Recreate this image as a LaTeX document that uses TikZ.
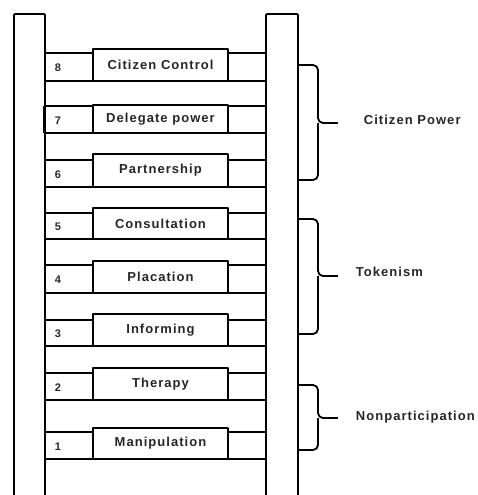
\documentclass[tikz,border=0pt]{standalone}
\usepackage{fontspec}
\newfontfamily\labfont{Liberation Sans}[LetterSpace=8]
\begin{document}
\begin{tikzpicture}[x=1pt,y=-1pt,line width=1.8pt,line join=round,
  lab/.style={font=\labfont\bfseries\fontsize{13}{15}\selectfont,text=black!85},
  numlab/.style={font=\labfont\bfseries\fontsize{11}{13}\selectfont,text=black!85},
  rungbox/.style={draw,fill=white,inner sep=0pt,minimum width=135pt,lab},
  brace/.style={rounded corners=5pt}]
\useasboundingbox (0,0) rectangle (478,495);
% rails
\draw[rounded corners=1pt] (14,496) -- (14,14) -- (45,14) -- (45,496);
\draw[rounded corners=1pt] (266,496) -- (266,14) -- (298,14) -- (298,496);
% rungs: number, top, bottom, box top, label
\foreach \n/\t/\b/\bt/\txt in {8/53/81/49/Citizen Control,7/106/133/105/Delegate power,6/160/187/154/Partnership,5/213/239/208/Consultation,4/265/293/261/Placation,3/320/346/314/Informing,2/373/400/368/Therapy,1/432/459/428/Manipulation}{
  \draw (45,\t) -- (266,\t);
  \draw (45,\b) -- (266,\b);
  \node[rungbox,minimum height={\b-\bt}] (box\n) at (160.5,{(\b+\bt)/2}) {\txt};
  \node[numlab] (num\n) at (58,{(\t+\b)/2+1}) {\n};
}
\draw (44,106) -- (44,133);
% braces
\foreach \k/\top/\bot/\mid/\lx/\ly/\txt in {cp/65/180/123/363/120/Citizen Power,tk/219/334/276/355/272/Tokenism,np/385/450/418/355/417/Nonparticipation}{
  \draw[brace] (298,\top) -- (318,\top) -- (318,\mid) -- (324,\mid);
  \draw[brace] (298,\bot) -- (318,\bot) -- (318,\mid);
  \coordinate (tip\k) at (338,\mid);
  \draw (322,\mid) -- (tip\k);
  \node[lab,anchor=west,inner sep=0pt] (lab\k) at (\lx,\ly) {\txt};
}
\end{tikzpicture}
\end{document}
